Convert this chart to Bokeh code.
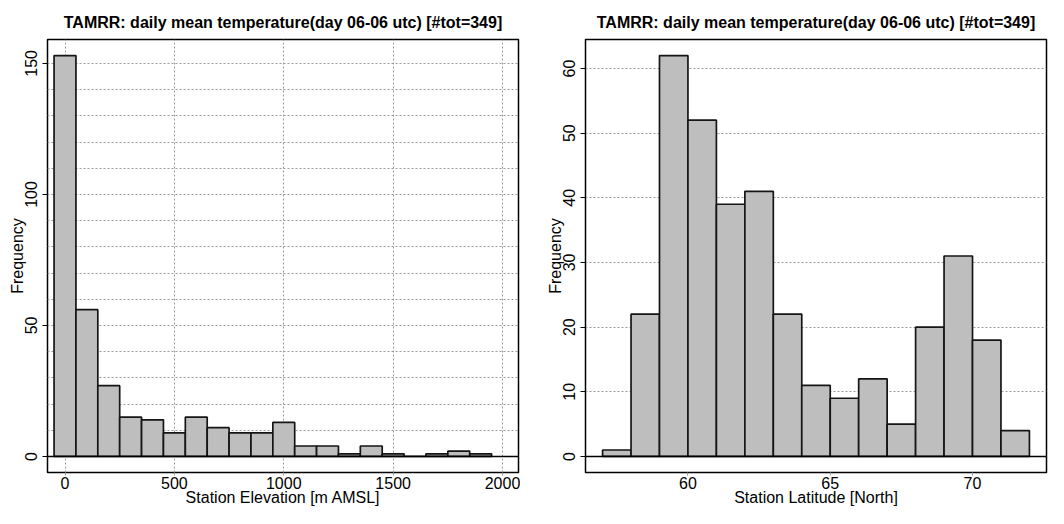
from bokeh.plotting import figure
from bokeh.layouts import row
from bokeh.models import FixedTicker, Span, Range1d, ColumnDataSource
from bokeh.embed import file_html
from bokeh.resources import INLINE

TITLE = "TAMRR: daily mean temperature(day 06-06 utc) [#tot=349]"

# Elevation histogram (bin edges in m AMSL, counts)
elev_edges = [-50, 50, 150, 250, 350, 450, 550, 650, 750, 850, 950,
              1050, 1150, 1250, 1350, 1450, 1550, 1650, 1750, 1850, 1950]
elev_counts = [153, 56, 27, 15, 14, 9, 15, 11, 9, 9, 13, 4, 4, 1, 4, 1, 0, 1, 2, 1]
elev_xticks = [0, 500, 1000, 1500, 2000]
elev_yticks = [0, 50, 100, 150]
elev_ygrid = [0, 10, 20, 30, 40, 50, 60, 70, 80, 90, 100, 110, 120, 130, 140, 150]

# Latitude histogram (bin edges in degrees North, counts)
lat_edges = [57, 58, 59, 60, 61, 62, 63, 64, 65, 66, 67, 68, 69, 70, 71, 72]
lat_counts = [1, 22, 62, 52, 39, 41, 22, 11, 9, 12, 5, 20, 31, 18, 4]
lat_xticks = [60, 65, 70]
lat_yticks = [0, 10, 20, 30, 40, 50, 60]

FONT = "Liberation Sans"


def make_hist(edges, counts, xlabel, x_range, y_range, xticks, yticks,
              ygrid, xgrid, width, min_left, min_right):
    p = figure(width=width, height=508, output_backend="svg",
               toolbar_location=None, tools="",
               x_range=Range1d(*x_range), y_range=Range1d(*y_range),
               min_border_left=min_left, min_border_right=min_right,
               min_border_top=39, min_border_bottom=35)
    src = ColumnDataSource(dict(left=edges[:-1], right=edges[1:],
                                top=counts, bottom=[0] * len(counts)))
    p.quad(left="left", right="right", top="top", bottom="bottom", source=src,
           fill_color="#BEBEBE", line_color="#151515", line_width=1.7)
    p.add_layout(Span(location=0, dimension="width", line_color="black",
                      line_width=1.5))

    p.title.text = TITLE
    p.title.text_font = FONT
    p.title.text_font_size = "16px"
    p.title.text_font_style = "bold"
    p.title.align = "center"
    p.title.text_color = "black"
    p.title.standoff = 17

    p.outline_line_color = "black"
    p.outline_line_width = 1.5
    p.outline_line_alpha = 1.0
    p.background_fill_color = "white"
    p.border_fill_color = "white"

    # grids
    p.ygrid.ticker = FixedTicker(ticks=ygrid)
    p.ygrid.grid_line_color = "#9a9a9a"
    p.ygrid.grid_line_dash = "2 2"
    p.ygrid.grid_line_width = 1
    if xgrid is None:
        p.xgrid.grid_line_color = None
    else:
        p.xgrid.ticker = FixedTicker(ticks=xgrid)
        p.xgrid.grid_line_color = "#9a9a9a"
        p.xgrid.grid_line_dash = "2 2"
        p.xgrid.grid_line_width = 1

    # y axis
    ya = p.yaxis[0]
    ya.ticker = FixedTicker(ticks=yticks)
    ya.axis_label = "Frequency"
    ya.axis_label_text_font = FONT
    ya.axis_label_text_font_size = "16px"
    ya.axis_label_text_font_style = "normal"
    ya.axis_label_text_color = "black"
    ya.major_label_text_font = FONT
    ya.major_label_text_font_size = "16px"
    ya.major_label_text_color = "black"
    ya.major_label_orientation = "vertical"
    ya.axis_line_color = None
    ya.major_tick_out = 5
    ya.major_tick_in = 0
    ya.major_tick_line_color = "black"
    ya.minor_tick_out = 0
    ya.minor_tick_in = 0
    ya.major_label_standoff = 5
    ya.axis_label_standoff = -3

    # x axis
    xa = p.xaxis[0]
    xa.ticker = FixedTicker(ticks=xticks)
    xa.axis_label = xlabel
    xa.axis_label_text_font = FONT
    xa.axis_label_text_font_size = "16px"
    xa.axis_label_text_font_style = "normal"
    xa.axis_label_text_color = "black"
    xa.major_label_text_font = FONT
    xa.major_label_text_font_size = "16px"
    xa.major_label_text_color = "black"
    xa.axis_line_color = None
    xa.major_tick_out = 3
    xa.major_tick_in = 0
    xa.major_tick_line_color = "#9a9a9a"
    xa.minor_tick_out = 0
    xa.minor_tick_in = 0
    xa.major_label_standoff = 1
    xa.axis_label_standoff = -3
    return p


p1 = make_hist(elev_edges, elev_counts, "Station Elevation [m AMSL]",
               (-80, 2073), (-6.12, 159.12), elev_xticks, elev_yticks,
               elev_ygrid, elev_xticks, width=520, min_left=47, min_right=2)
p2 = make_hist(lat_edges, lat_counts, "Station Latitude [North]",
               (56.4, 72.6), (-2.48, 64.48), lat_xticks, lat_yticks,
               lat_yticks, None, width=528, min_left=65, min_right=2)

layout = row(p1, p2)
open("out.html", "w").write(file_html(layout, INLINE))
